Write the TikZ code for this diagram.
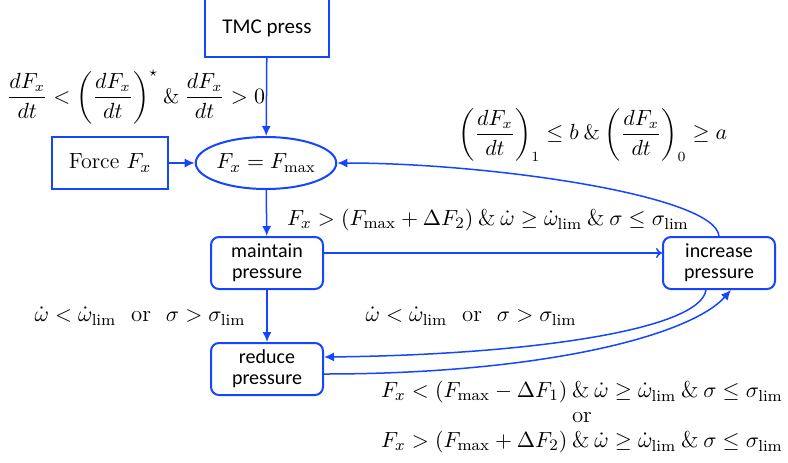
\documentclass[tikz,border=0pt]{standalone}
\usepackage{amsmath}
\usepackage{fontspec}
\newfontfamily\boxfont{Carlito}
\usetikzlibrary{arrows.meta, shapes.geometric}
\definecolor{flowblue}{RGB}{20,70,255}

\begin{document}
\begin{tikzpicture}[x=0.5pt, y=-0.5pt,
    sqbox/.style={draw=flowblue, line width=1pt, inner sep=0pt, align=center},
    statebox/.style={draw=flowblue, line width=1pt, rounded corners=4pt, inner sep=0pt,
        minimum width=56pt, minimum height=26pt, align=center, font=\boxfont\fontsize{10}{10.5}\selectfont},
    flow/.style={draw=flowblue, line width=0.75pt, -{Latex[length=5pt,width=4.5pt]}},
    thinflow/.style={draw=flowblue, line width=0.75pt, -{To[length=3pt,width=5pt]}},
    cond/.style={font=\fontsize{11.4}{13}\selectfont, align=center}]
    \useasboundingbox (0,0) rectangle (788,462);
    % boxes
    \node[sqbox, minimum width=62pt, minimum height=29pt, font=\boxfont\fontsize{10.5}{12}\selectfont] (tmc) at (267,28) {TMC press};
    \node[sqbox, minimum width=58pt, minimum height=26pt, font=\fontsize{11}{13}\selectfont] (force) at (110,163) {Force $F_x$};
    \node[draw=flowblue, ellipse, line width=1pt, inner sep=0pt, minimum width=53pt, minimum height=26pt, font=\fontsize{11}{13}\selectfont] (fmax) at (266,163) {$F_x = F_{\max}$};
    \node[statebox] (maintain) at (267,263) {maintain\\pressure};
    \node[statebox] (reduce) at (267,369) {reduce\\pressure};
    \node[statebox] (increase) at (719,263) {increase\\pressure};
    % conditions
    \node[cond, font=\fontsize{10.5}{12}\selectfont] (c1) at (136,97) {$\dfrac{dF_x}{dt} < \left(\dfrac{dF_x}{dt}\right)^{\star} \mathbin{\&} \dfrac{dF_x}{dt} > 0$};
    \node[cond, font=\fontsize{10.5}{12}\selectfont] (c2) at (593,135) {$\left(\dfrac{dF_x}{dt}\right)_1 \le b \mathbin{\&} \left(\dfrac{dF_x}{dt}\right)_0 \ge a$};
    \node[cond] (c3) at (488,220) {$F_x > (F_{\max} + \Delta F_2) \mathbin{\&} \dot{\omega} \ge \dot{\omega}_{\lim} \mathbin{\&} \sigma \le \sigma_{\lim}$};
    \node[cond] (c4) at (140,316) {$\dot{\omega} < \dot{\omega}_{\lim} \ \ \mathrm{or}\ \ \sigma > \sigma_{\lim}$};
    \node[cond] (c5) at (471,316) {$\dot{\omega} < \dot{\omega}_{\lim} \ \ \mathrm{or}\ \ \sigma > \sigma_{\lim}$};
    \node[cond, font=\fontsize{11.4}{12.5}\selectfont] (c6) at (582,417) {$F_x < (F_{\max} - \Delta F_1) \mathbin{\&} \dot{\omega} \ge \dot{\omega}_{\lim} \mathbin{\&} \sigma \le \sigma_{\lim}$\\or\\$F_x > (F_{\max} + \Delta F_2) \mathbin{\&} \dot{\omega} \ge \dot{\omega}_{\lim} \mathbin{\&} \sigma \le \sigma_{\lim}$};
    % transitions
    \draw[flow] (tmc) -- (fmax);
    \draw[flow] (force) -- (fmax);
    \draw[flow] (fmax) -- (maintain);
    \draw[flow] (maintain) -- (reduce);
    \draw[thinflow] ([yshift=5pt]maintain.east) -- ([yshift=5pt]increase.west);
    \draw[flow] (increase.north) .. controls +(-4,-41) and +(151,0) .. (fmax.east);
    \draw[flow] ([xshift=-6.5pt]increase.south) .. controls +(-6,41) and +(197,-2) .. ([yshift=6pt]reduce.east);
    \draw[flow] ([yshift=-2.5pt]reduce.east) .. controls +(217,0) and +(-41,46) .. ([xshift=6pt]increase.south);
\end{tikzpicture}
\end{document}
